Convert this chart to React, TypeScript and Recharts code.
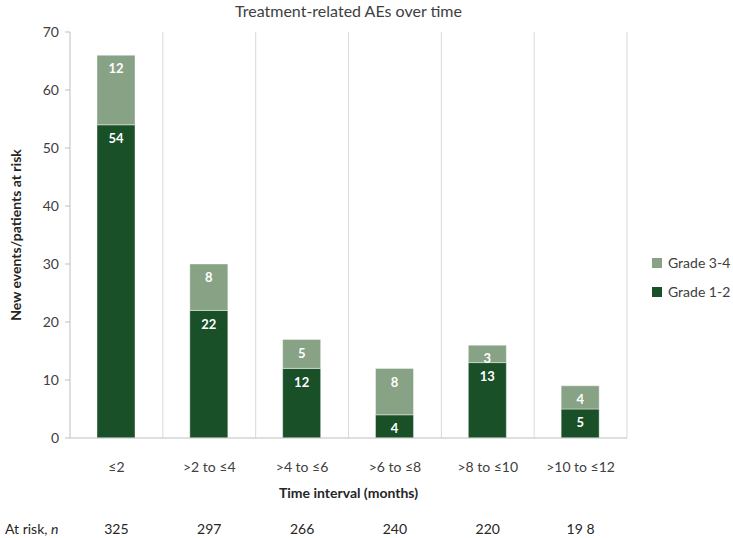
import React from 'react';
import { BarChart, Bar, XAxis, YAxis, CartesianGrid, LabelList } from 'recharts';

const intervals = ['≤2', '>2 to ≤4', '>4 to ≤6', '>6 to ≤8', '>8 to ≤10', '>10 to ≤12'];
const grade12 = [54, 22, 12, 4, 13, 5];
const grade34 = [12, 8, 5, 8, 3, 4];
const atRisk = ['325', '297', '266', '240', '220', '19 8'];
const yTicks = [0, 10, 20, 30, 40, 50, 60, 70];

const DARK = '#1A5028';
const LIGHT = '#87A284';
const FONT = 'Lato, "Open Sans", sans-serif';

const data = intervals.map((name, i) => ({ name, g12: grade12[i], g34: grade34[i] }));

function IntervalTick(props: any) {
  const { x, y, payload, index } = props;
  return (
    <g>
      <text x={x} y={y + 34} textAnchor="middle" fill="#404040" fontSize={14} fontFamily={FONT}>
        {payload.value}
      </text>
      <text x={x} y={y + 96} textAnchor="middle" fill="#262626" fontSize={14} fontFamily={FONT}>
        {atRisk[index]}
      </text>
    </g>
  );
}

function LegendBox() {
  const items = [
    { label: 'Grade 3-4', color: LIGHT },
    { label: 'Grade 1-2', color: DARK },
  ];
  return (
    <div style={{ position: 'absolute', left: 652, top: 248, fontFamily: FONT, fontSize: 14, color: '#404040' }}>
      {items.map((it) => (
        <div key={it.label} style={{ display: 'flex', alignItems: 'center', height: 29 }}>
          <span style={{ width: 10, height: 10, background: it.color, marginRight: 6, display: 'inline-block' }} />
          {it.label}
        </div>
      ))}
    </div>
  );
}

export default function App() {
  return (
    <div style={{ position: 'absolute', left: 0, top: 0, width: 733, height: 538, background: '#fff', fontFamily: FONT }}>
      <div style={{ position: 'absolute', top: 1, left: 70, width: 557, textAlign: 'center', fontSize: 16, color: '#404040' }}>
        Treatment-related AEs over time
      </div>
      <BarChart width={733} height={538} data={data} margin={{ top: 32, right: 106, left: 0, bottom: 0 }} barSize={38}>
        <CartesianGrid
          horizontal={false}
          stroke="#D9D9D9"
          verticalCoordinatesGenerator={({ offset }: any) =>
            intervals.map((_, i) => offset.left + ((i + 1) * offset.width) / intervals.length)
          }
        />
        <XAxis
          dataKey="name"
          height={100}
          tickSize={0}
          tickMargin={0}
          tickLine={false}
          axisLine={{ stroke: '#BFBFBF' }}
          interval={0}
          tick={<IntervalTick />}
          label={{
            content: ({ viewBox }: any) => (
              <text x={viewBox.x + viewBox.width / 2} y={viewBox.y + 60} textAnchor="middle" fontWeight="bold" fontSize={14} fill="#262626" fontFamily={FONT}>
                Time interval (months)
              </text>
            ),
          }}
        />
        <YAxis
          width={70}
          domain={[0, 70]}
          ticks={yTicks}
          tickSize={5}
          tickMargin={6}
          axisLine={{ stroke: '#BFBFBF' }}
          tickLine={{ stroke: '#BFBFBF' }}
          tick={{ fill: '#404040', fontSize: 14, fontFamily: FONT }}
          label={{
            content: ({ viewBox }: any) => (
              <text
                x={15}
                y={viewBox.y + viewBox.height / 2}
                transform={`rotate(-90, 15, ${viewBox.y + viewBox.height / 2})`}
                textAnchor="middle"
                dominantBaseline="central"
                fontWeight="bold"
                fontSize={14}
                fill="#262626"
                fontFamily={FONT}
              >
                New events/patients at risk
              </text>
            ),
          }}
        />
        <Bar dataKey="g12" name="Grade 1-2" stackId="a" fill={DARK} stroke="#ffffff" strokeOpacity={0.4} isAnimationActive={false}>
          <LabelList dataKey="g12" position="insideTop" offset={9} fill="#ffffff" fontWeight="bold" fontSize={13} fontFamily={FONT} />
        </Bar>
        <Bar dataKey="g34" name="Grade 3-4" stackId="a" fill={LIGHT} stroke="#ffffff" strokeOpacity={0.4} isAnimationActive={false}>
          <LabelList dataKey="g34" position="insideTop" offset={9} fill="#ffffff" fontWeight="bold" fontSize={13} fontFamily={FONT} />
        </Bar>
      </BarChart>
      <LegendBox />
      <div style={{ position: 'absolute', left: 5, top: 520, fontSize: 14, color: '#262626' }}>
        At risk, <i>n</i>
      </div>
    </div>
  );
}
